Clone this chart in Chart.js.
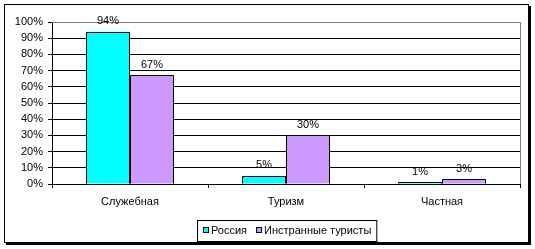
<!DOCTYPE html>
<html>
<head>
<meta charset="utf-8">
<script src="https://cdn.jsdelivr.net/npm/chart.js@4.4.1/dist/chart.umd.min.js"></script>
<style>
  html, body { margin: 0; padding: 0; background: #fff; }
  canvas { display: block; }
</style>
</head>
<body>
<canvas id="grafico" width="535" height="249"></canvas>
<script>
// dados do grafico
const categorias = ['Служебная', 'Туризм', 'Частная'];
const russia = [94, 5, 1];
const estrangeiros = [67, 30, 3];
const nomesSeries = ['Россия', 'Инстранные туристы'];
const coresSeries = ['#00FFFF', '#CC99FF'];

const fonte = '11px "Liberation Sans", Arial, sans-serif';

// moldura, contorno das barras, rotulos e legenda
const extras = {
  id: 'extras',
  beforeDraw(chart) {
    const c = chart.ctx;
    c.save();
    c.fillStyle = '#fff';
    c.fillRect(0, 0, chart.width, chart.height);
    // sombra
    c.fillStyle = '#000';
    c.fillRect(6, 243, 525, 2);
    c.fillRect(529, 6, 2, 239);
    c.strokeStyle = '#000';
    c.lineWidth = 1;
    c.strokeRect(4.5, 4.5, 524, 238);
    c.restore();
  },
  afterDatasetsDraw(chart) {
    const c = chart.ctx;
    c.save();
    c.strokeStyle = '#000';
    c.lineWidth = 1;
    chart.data.datasets.forEach((ds, i) => {
      chart.getDatasetMeta(i).data.forEach((bar) => {
        const x1 = Math.round(bar.x - bar.width / 2) + 0.5;
        const x2 = Math.round(bar.x + bar.width / 2) - 0.5;
        const y1 = Math.round(bar.y) + 0.5;
        const y2 = Math.round(bar.base) - 0.5;
        c.beginPath();
        c.moveTo(x1, y2);
        c.lineTo(x1, y1);
        c.lineTo(x2, y1);
        c.lineTo(x2, y2);
        c.stroke();
      });
    });
    c.restore();
  },
  afterDraw(chart) {
    const c = chart.ctx;
    const a = chart.chartArea;
    c.save();
    // borda da area do grafico
    c.strokeStyle = '#808080';
    c.lineWidth = 1;
    c.beginPath();
    c.moveTo(a.left, Math.round(a.top) + 0.5);
    c.lineTo(Math.round(a.right) + 0.5, Math.round(a.top) + 0.5);
    c.lineTo(Math.round(a.right) + 0.5, a.bottom);
    c.stroke();

    // rotulos dos valores
    c.font = fonte;
    c.fillStyle = '#000';
    c.textAlign = 'center';
    c.textBaseline = 'alphabetic';
    chart.data.datasets.forEach((ds, i) => {
      chart.getDatasetMeta(i).data.forEach((bar, j) => {
        c.fillText(ds.data[j] + '%', bar.x, bar.y - 7.5);
      });
    });

    // legenda
    c.textBaseline = 'middle';
    const y = 231;
    let x = 203;
    const itens = [];
    chart.data.datasets.forEach((ds) => {
      const bx = x;
      const tx = bx + 8;
      const w = c.measureText(ds.label).width;
      itens.push({ bx, tx, ds });
      x = tx + w + 9;
    });
    const direita = x - 9 + 5;
    c.strokeStyle = '#000';
    c.strokeRect(197.5, 220.5, direita - 197, 21);
    c.textAlign = 'left';
    itens.forEach((it) => {
      c.fillStyle = it.ds.backgroundColor;
      c.fillRect(it.bx + 0.5, y - 3.5, 5, 5);
      c.strokeRect(it.bx + 0.5, y - 3.5, 5, 5);
      c.fillStyle = '#000';
      c.fillText(it.ds.label, it.tx, y);
    });
    c.restore();
  }
};

new Chart(document.getElementById('grafico'), {
  type: 'bar',
  data: {
    labels: categorias,
    datasets: [{
      label: nomesSeries[0],
      data: russia,
      backgroundColor: coresSeries[0],
      borderWidth: 0
    }, {
      label: nomesSeries[1],
      data: estrangeiros,
      backgroundColor: coresSeries[1],
      borderWidth: 0
    }]
  },
  options: {
    responsive: false,
    animation: false,
    devicePixelRatio: 1,
    layout: { padding: { left: 0, top: 22, right: 15, bottom: 0 } },
    datasets: { bar: { categoryPercentage: 88 / 156, barPercentage: 1 } },
    plugins: {
      legend: { display: false },
      tooltip: { enabled: false }
    },
    scales: {
      x: {
        afterFit(scale) { scale.height = 65; },
        grid: { offset: true, drawOnChartArea: false, drawTicks: true, tickLength: 4, color: '#000' },
        border: { color: '#000', width: 1 },
        ticks: { color: '#000', font: { family: '"Liberation Sans", Arial, sans-serif', size: 11 }, padding: 7 }
      },
      y: {
        min: 0,
        max: 100,
        afterFit(scale) { scale.width = 52; },
        grid: {
          color: (ctx) => ctx.tick && ctx.tick.value === 100 ? 'rgba(0,0,0,0)' : '#000',
          tickColor: '#000',
          tickLength: 4
        },
        border: { color: '#000', width: 1 },
        ticks: {
          stepSize: 10,
          color: '#000',
          padding: 5,
          font: { family: '"Liberation Sans", Arial, sans-serif', size: 11 },
          callback: (v) => v + '%'
        }
      }
    }
  },
  plugins: [extras]
});
</script>
</body>
</html>
